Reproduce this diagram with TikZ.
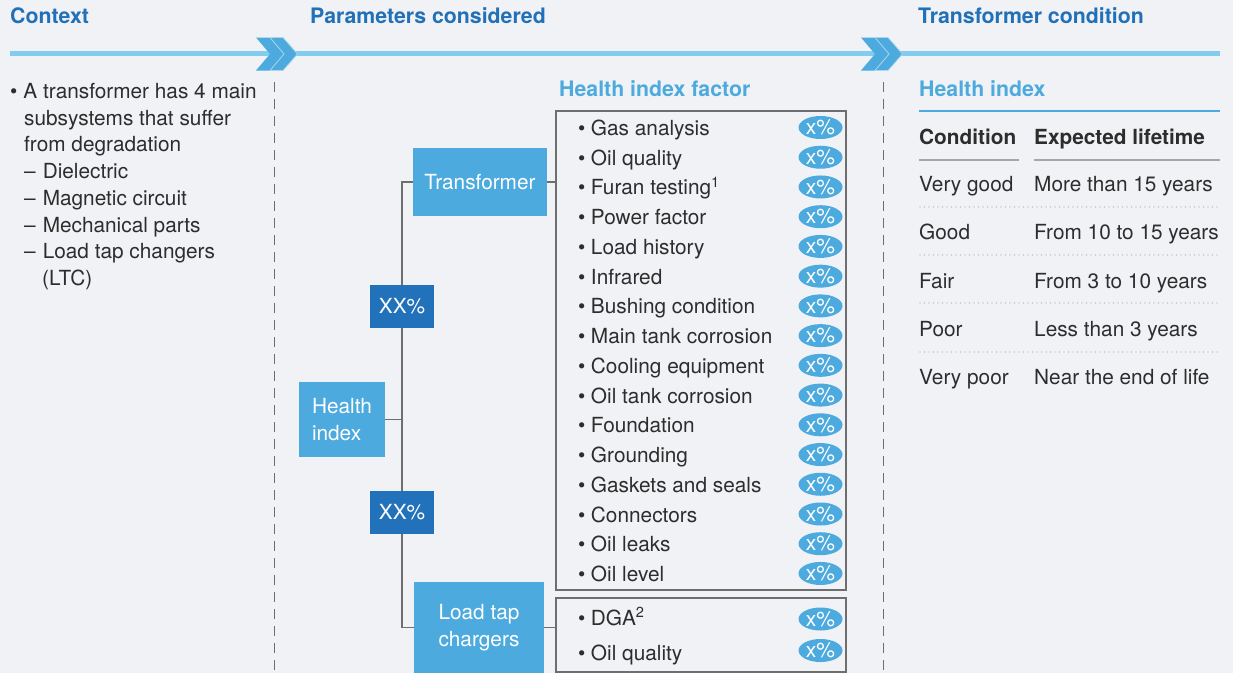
\documentclass[tikz,border=0pt]{standalone}
\usepackage{fontspec}
\setmainfont{TeX Gyre Heros}
\usetikzlibrary{shapes.geometric}
\definecolor{bgc}{RGB}{241,242,245}
\definecolor{tblue}{RGB}{33,112,184}
\definecolor{lblue}{RGB}{76,170,222}
\definecolor{lineblue}{RGB}{128,205,240}
\definecolor{dblue}{RGB}{34,114,187}
\definecolor{txt}{RGB}{45,45,45}
\definecolor{gline}{RGB}{110,110,110}
\begin{document}
\begin{tikzpicture}[x=1pt,y=-1pt,
  ttl/.style={anchor=base west,inner sep=0pt,font=\bfseries\fontsize{21.3}{25}\selectfont,text=tblue},
  subttl/.style={anchor=base west,inner sep=0pt,font=\bfseries\fontsize{21.3}{25}\selectfont,text=lblue},
  hdr/.style={anchor=base west,inner sep=0pt,font=\bfseries\fontsize{20.8}{25}\selectfont,text=txt},
  body/.style={anchor=base west,inner sep=0pt,font=\fontsize{20.8}{26.5}\selectfont,text=txt},
  bluebox/.style={fill=lblue,text=white,font=\fontsize{20.8}{26.5}\selectfont,inner sep=0pt,align=left},
  pctbox/.style={fill=dblue,text=white,font=\fontsize{20.8}{26.5}\selectfont,inner sep=0pt,minimum width=64pt,minimum height=43pt},
  pct/.style={ellipse,fill=lblue,text=white,minimum width=44pt,minimum height=23pt,inner sep=0pt,font=\fontsize{21}{24}\selectfont},
  frame/.style={draw=gline,line width=1.2pt,inner sep=0pt},
  conn/.style={draw=gline,line width=1.2pt},
  sepline/.style={draw=gline,line width=1pt,dash pattern=on 10pt off 7pt},
  dotline/.style={draw=black!35,line width=1.3pt,dash pattern=on 0pt off 4.5pt,line cap=round},
  chev/.style={fill=lblue}
]
\useasboundingbox[fill=bgc] (0,0) rectangle (1233,673);

% titles
\node[ttl] (tctx) at (10,23.5) {Context};
\node[ttl] (tpar) at (310,23.5) {Parameters considered};
\node[ttl] (tcond) at (918,23.5) {Transformer condition};

% timeline
\draw[lineblue,line width=4.5pt] (10,53.5) -- (1220,53.5);
\foreach \dx in {0,605}{
  \begin{scope}[xshift=\dx pt]
  \fill[chev] (256,37.5) -- (271,37.5) -- (285,54) -- (271,70.5) -- (256,70.5) -- (270,54) -- cycle;
  \fill[chev,draw=bgc!60!lblue,line width=0.8pt] (270,37.5) -- (283,37.5) -- (297.5,54) -- (283,70.5) -- (270,70.5) -- (284,54) -- cycle;
  \end{scope}
}

% separators
\draw[sepline] (274,82) -- (274,673);
\draw[sepline] (883,82) -- (883,673);

% context text
\node[body] (l1) at (10,98.5) {•\hspace{6pt}A transformer has 4 main};
\node[body] (l2) at (24,125.2) {subsystems that suffer};
\node[body] (l3) at (24,151.9) {from degradation};
\node[body] (l4) at (24,178.6) {–\hspace{7pt}Dielectric};
\node[body] (l5) at (24,205.3) {–\hspace{7pt}Magnetic circuit};
\node[body] (l6) at (24,232) {–\hspace{7pt}Mechanical parts};
\node[body] (l7) at (24,258.7) {–\hspace{7pt}Load tap changers};
\node[body] (l8) at (42,285.4) {(LTC)};

% health index factor
\node[subttl] (thif) at (559,96.5) {Health index factor};
\node[frame,minimum width=290pt,minimum height=479pt] (tbox) at (701,350.5) {};
\node[frame,minimum width=290pt,minimum height=74pt] (lbox) at (701,635) {};

\foreach \itm [count=\k from 0] in {Gas analysis,Oil quality,Furan testing\textsuperscript{1},Power factor,Load history,Infrared,Bushing condition,Main tank corrosion,Cooling equipment,Oil tank corrosion,Foundation,Grounding,Gaskets and seals,Connectors,Oil leaks,Oil level}{
  \node[body] (it\k) at (578,135.5+29.73*\k) {•\hspace{5.5pt}\itm};
  \node[pct] (pc\k) at (820.5,127.5+29.73*\k) {x\%};
}
\node[body] (d1) at (578,625) {•\hspace{5.5pt}DGA\textsuperscript{2}};
\node[pct] (dp1) at (820.5,619) {x\%};
\node[body] (d2) at (578,660) {•\hspace{5.5pt}Oil quality};
\node[pct] (dp2) at (820.5,650.5) {x\%};

% tree
\node[bluebox,minimum width=134pt,minimum height=68pt] (tr) at (480,182) {Transformer};
\node[bluebox,minimum width=86pt,minimum height=75pt] (hi) at (342,419.5) {Health\\index};
\node[bluebox,minimum width=130pt,minimum height=91pt] (ltc) at (479,627.5) {Load tap\\chargers};
\node[pctbox] (xx1) at (402,306.5) {XX\%};
\node[pctbox] (xx2) at (402,512.5) {XX\%};

\draw[conn] (tr.west) -| (xx1.north);
\draw[conn] (xx1.south) -- (xx2.north);
\draw[conn] (xx2.south) |- (ltc.west);
\draw[conn] (hi.east) -- (hi.east -| xx1.south);
\draw[conn] (tr.east) -- (tr.east -| tbox.west);
\draw[conn] (ltc.east) -- (ltc.east -| lbox.west);

% right side
\node[subttl] (thi) at (919,96.5) {Health index};
\draw[lblue,line width=2pt] (919,111) -- (1220,111);
\node[hdr] (hc) at (919,144.5) {Condition};
\node[hdr] (he) at (1034,144.5) {Expected lifetime};
\draw[black!35,line width=1.5pt] (919,160) -- (1019,160);
\draw[black!35,line width=1.5pt] (1034,160) -- (1220,160);
\foreach \c/\e [count=\r from 0] in {Very good/More than 15 years,Good/From 10 to 15 years,Fair/From 3 to 10 years,Poor/Less than 3 years,Very poor/Near the end of life}{
  \node[body] (rc\r) at (919,191.5+48.3*\r) {\c};
  \node[body] (re\r) at (1034,191.5+48.3*\r) {\e};
}
\foreach \yy in {207,255,303,352}{
  \draw[dotline] (920,\yy) -- (1220,\yy);
}
\end{tikzpicture}
\end{document}
